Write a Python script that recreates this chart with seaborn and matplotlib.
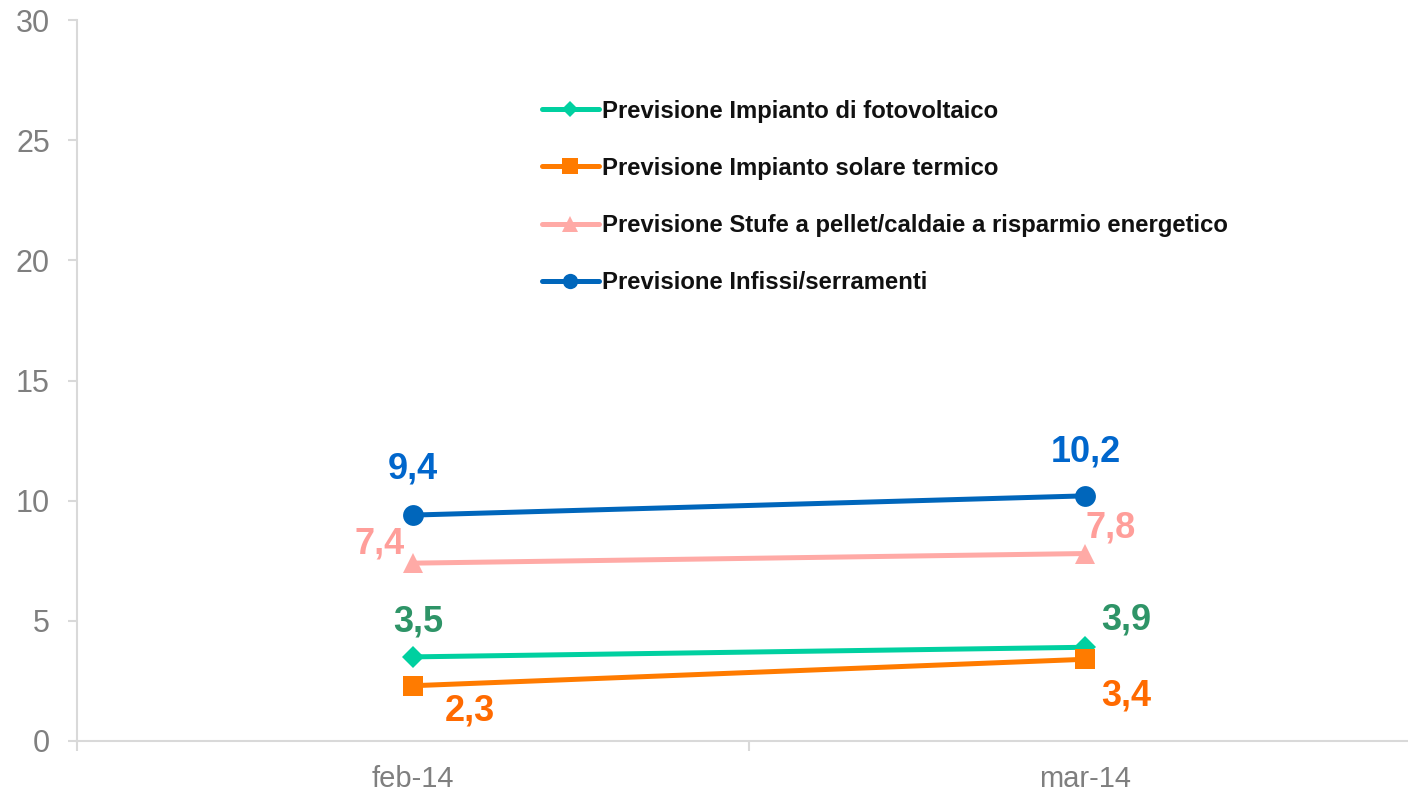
import numpy as np
import pandas as pd
import matplotlib
matplotlib.use("Agg")
import matplotlib.pyplot as plt
from matplotlib.lines import Line2D
import seaborn as sns

categories = ["feb-14", "mar-14"]
fotovoltaico = [3.5, 3.9]
solare_termico = [2.3, 3.4]
stufe_pellet = [7.4, 7.8]
infissi = [9.4, 10.2]
series_names = [
    "Previsione Impianto di fotovoltaico",
    "Previsione Impianto solare termico",
    "Previsione Stufe a pellet/caldaie a risparmio energetico",
    "Previsione Infissi/serramenti",
]
labels_fv = ["3,5", "3,9"]
labels_st = ["2,3", "3,4"]
labels_sp = ["7,4", "7,8"]
labels_in = ["9,4", "10,2"]

sns.set_style("white")
plt.rcParams["font.family"] = ["Liberation Sans", "DejaVu Sans"]

fig = plt.figure(figsize=(14.08, 7.90), dpi=100)
ax = fig.add_axes([77 / 1408, 49 / 790, 1331 / 1408, 721 / 790])

pos = np.arange(len(categories)) + 0.5
series = [fotovoltaico, solare_termico, stufe_pellet, infissi]
line_colors = ["#00D0A0", "#FF7B00", "#FFAAA6", "#0066BB"]
label_colors = ["#2E9467", "#FF6A00", "#FF9E9A", "#0066CC"]
markers = ["D", "s", "^", "o"]
msizes = [11, 15, 15, 15]
texts = [labels_fv, labels_st, labels_sp, labels_in]
# label offsets in pixels (dx, dy) relative to the point
offsets = [
    [(5, 35), (41, 27)],
    [(57, -25), (41, -37)],
    [(-33, 19), (26, 26)],
    [(0, 46), (1, 44)],
]

for vals, col, lc, mk, ms, txt, offs in zip(series, line_colors, label_colors,
                                             markers, msizes, texts, offsets):
    df = pd.DataFrame({"x": pos, "y": vals})
    sns.lineplot(data=df, x="x", y="y", ax=ax, color=col, linewidth=3.6,
                 marker=mk, markersize=ms, markeredgewidth=0, legend=False)
    for xv, yv, t, (dx, dy) in zip(pos, vals, txt, offs):
        ax.annotate(t, (xv, yv), xytext=(dx, dy), textcoords="offset pixels",
                    ha="center", va="center", fontsize=26, fontweight="bold",
                    color=lc)

ax.set_yticks(np.arange(0, 31, 5))
ax.set_xticks([0, 1, 2])
ax.set_xticklabels([])
ax.set_xticks(pos, minor=True)
ax.set_xticklabels(categories, minor=True)
ax.set_xlim(0, 1331 / 672)
ax.set_ylim(0, 30)
ax.tick_params(axis="x", which="minor", bottom=True, length=0, pad=17,
               labelsize=21, labelcolor="#7F7F7F")
ax.tick_params(axis="x", which="major", bottom=True, length=7, width=1.5,
               color="#D9D9D9", direction="out")
ax.tick_params(axis="y", left=True, length=6.5, width=1.5, color="#D9D9D9",
               direction="out", labelsize=22, labelcolor="#7F7F7F", pad=13)
ax.set_xlabel("")
ax.set_ylabel("")
for s in ["top", "right"]:
    ax.spines[s].set_visible(False)
for s in ["left", "bottom"]:
    ax.spines[s].set_color("#D9D9D9")
    ax.spines[s].set_linewidth(1.5)

handles = [
    Line2D([], [], color=c, linewidth=3.6, marker=m, markersize=s,
           markeredgewidth=0)
    for c, m, s in zip(line_colors, markers, [8, 11, 11, 11])
]
leg = ax.legend(handles, series_names, loc="upper left",
                bbox_to_anchor=(532 / 1408, 1 - 90 / 790),
                bbox_transform=fig.transFigure, frameon=False,
                prop={"size": 17.2, "weight": "bold"}, handlelength=2.39,
                handletextpad=0.12, labelspacing=1.43, borderaxespad=0)
for t in leg.get_texts():
    t.set_color("#111111")

fig.savefig("out.png", dpi=100)
